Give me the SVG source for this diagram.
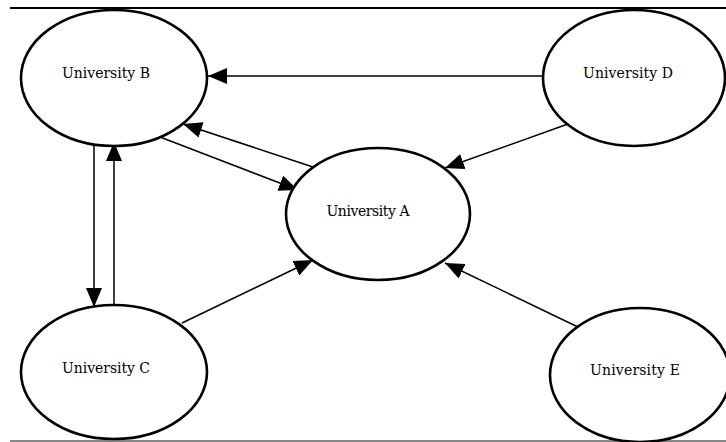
<svg xmlns="http://www.w3.org/2000/svg" width="726" height="442" viewBox="0 0 726 442">
  <style>
    .node ellipse { fill: #fff; stroke: #000; stroke-width: 2.6; }
    .node text { font-family: "DejaVu Serif", "Liberation Serif", serif; font-size: 14px; fill: #000; text-anchor: middle; }
    .edge { fill: none; stroke: #000; stroke-width: 1.5; marker-end: url(#arrow); }
  </style>
  <defs>
    <marker id="arrow" markerUnits="userSpaceOnUse" markerWidth="19" markerHeight="16" refX="19" refY="8" orient="auto">
      <path d="M0,0 L19,8 L0,16 z" fill="#000"/>
    </marker>
  </defs>
  <rect width="726" height="442" fill="#fff"/>
  <!-- frame rules -->
  <line x1="10" y1="8" x2="726" y2="8" stroke="#000" stroke-width="2"/>
  <line x1="10" y1="441" x2="726" y2="441" stroke="#888" stroke-width="2"/>

  <g id="connectors">
    <path class="edge" d="M543,76 L208,76"/>
    <path class="edge" d="M160,137 L298,190"/>
    <path class="edge" d="M313,167 L183,124"/>
    <path class="edge" d="M568,124 L445,168"/>
    <path class="edge" d="M182,323 L313,260"/>
    <path class="edge" d="M578,327 L445,263"/>
    <path class="edge" d="M94,143 L94,307"/>
    <path class="edge" d="M114,310 L114,142"/>
  </g>

  <g id="university-b" class="node">
    <ellipse cx="114" cy="78" rx="93" ry="68"/>
    <text x="106" y="78" textLength="88">University B</text>
  </g>
  <g id="university-d" class="node">
    <ellipse cx="634" cy="78" rx="91" ry="68"/>
    <text x="628" y="78" textLength="90">University D</text>
  </g>
  <g id="university-a" class="node">
    <ellipse cx="378" cy="214" rx="92" ry="66"/>
    <text x="368" y="216" textLength="83">University A</text>
  </g>
  <g id="university-c" class="node">
    <ellipse cx="114" cy="372" rx="93" ry="67"/>
    <text x="106" y="373" textLength="88">University C</text>
  </g>
  <g id="university-e" class="node">
    <ellipse cx="640" cy="375" rx="90" ry="67"/>
    <text x="635" y="375" textLength="90">University E</text>
  </g>
</svg>
